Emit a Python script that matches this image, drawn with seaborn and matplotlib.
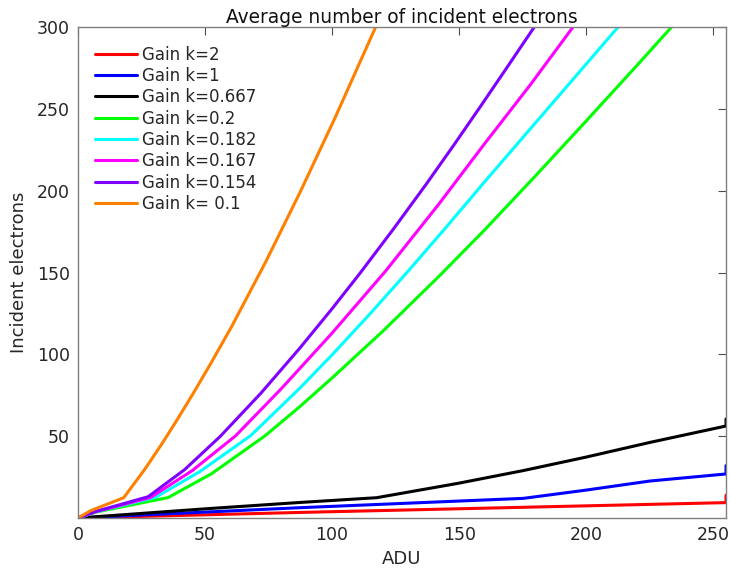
import numpy as np
import pandas as pd
import matplotlib
matplotlib.use("Agg")
import matplotlib.pyplot as plt
import seaborn as sns

labels = ["Gain k=2", "Gain k=1", "Gain k=0.667", "Gain k=0.2",
          "Gain k=0.182", "Gain k=0.167", "Gain k=0.154", "Gain k= 0.1"]
colors = ["#FF0000", "#0000FF", "#000000", "#00FF00",
          "#00FFFF", "#FF00FF", "#7F00FF", "#FF8000"]

x_k2 = [0, 87.4, 255, 255]
y_k2 = [0, 3.4, 9.4, 13.9]

x_k1 = [0, 87.4, 175.3, 200.2, 225.1, 255, 255]
y_k1 = [0, 6.3, 12.0, 17.1, 22.6, 26.9, 32.0]

x_k0667 = [0, 50, 87.4, 117.5, 149.6, 175.3, 200.2, 225.1, 255, 255]
y_k0667 = [0, 5.6, 9.5, 12.4, 21.2, 29.0, 37.3, 46.2, 56.2, 60.5]

x_k02 = [0, 7, 35.5, 52.5, 73.5, 87.4, 100, 120, 142, 160, 180, 200, 220, 238]
y_k02 = [0, 3.6, 12.5, 27, 50.1, 68.2, 85.6, 114.2, 147.6, 176, 209, 242.6, 276.6, 307.6]

x_k0182 = [0, 7, 30.5, 48, 68, 87.4, 100, 115, 130, 145, 160, 175, 190, 205, 215]
y_k0182 = [0, 3.8, 12.6, 28.4, 50.4, 79.5, 99.7, 124.9, 151, 177.9, 205.4, 232.4, 259.4, 286.4, 304.4]

x_k0167 = [0, 7, 28.5, 45, 62, 80, 100, 121, 142, 160, 178, 196]
y_k0167 = [0, 3.9, 12.5, 29, 50.2, 79, 113, 150.8, 191.8, 228.7, 264.7, 302.5]

x_k0154 = [0, 7, 27.6, 42, 56, 72, 87.4, 100, 111, 124, 137, 148, 158, 169, 180, 183]
y_k0154 = [0, 4.0, 13, 29.6, 49.9, 76.3, 104, 127.9, 149.6, 176.3, 203.9, 228.1, 250.6, 275.7, 301, 308]

x_k01 = [0, 5, 18, 26.2, 32.8, 39.4, 45.9, 52.5, 60.4, 74, 87.5, 101, 117, 120]
y_k01 = [0, 4.5, 12.4, 29.6, 44.8, 61.0, 77.6, 95.1, 116.8, 156.9, 199.4, 244, 299.5, 310]

series_x = [x_k2, x_k1, x_k0667, x_k02, x_k0182, x_k0167, x_k0154, x_k01]
series_y = [y_k2, y_k1, y_k0667, y_k02, y_k0182, y_k0167, y_k0154, y_k01]

xticks = [0, 50, 100, 150, 200, 250]
yticks = [50, 100, 150, 200, 250, 300]

frames = []
for lab, xs, ys in zip(labels, series_x, series_y):
    frames.append(pd.DataFrame({"ADU": xs, "e": ys, "series": lab}))
df = pd.concat(frames, ignore_index=True)

sns.set_style("white")
plt.rcParams["font.family"] = ["DejaVu Sans"]

fig = plt.figure(figsize=(7.3, 5.69), dpi=100)
ax = fig.add_axes([78/730, 51/569, 648/730, 491/569])

sns.lineplot(data=df, x="ADU", y="e", hue="series", hue_order=labels,
             palette=dict(zip(labels, colors)), estimator=None, sort=False,
             units="series", linewidth=2.2, ax=ax, legend=True)

ax.set_xlim(0, 255)
ax.set_ylim(0, 300)
ax.set_xticks(xticks)
ax.set_yticks(yticks)
ax.tick_params(direction="in", length=6, width=0.8, top=True, right=True,
               labelsize=12.5, colors="#4d4d4d", labelcolor="#262626", pad=6)
for sp in ax.spines.values():
    sp.set_visible(True)
    sp.set_color("#7f7f7f")
    sp.set_linewidth(1.0)

ax.set_xlabel("ADU", fontsize=13, color="#262626", labelpad=4)
ax.set_ylabel("Incident electrons", fontsize=13, color="#262626", labelpad=6)
ax.set_title("Average number of incident electrons", fontsize=13.4,
             color="#111111", pad=3)

leg = ax.legend(loc="upper left", bbox_to_anchor=(0.026, 0.962),
                frameon=False, fontsize=12, handlelength=2.5,
                handletextpad=0.3, labelspacing=0.2, borderpad=0,
                borderaxespad=0)
for h in leg.get_lines():
    h.set_linewidth(2.2)

fig.savefig("out.png", dpi=100)
